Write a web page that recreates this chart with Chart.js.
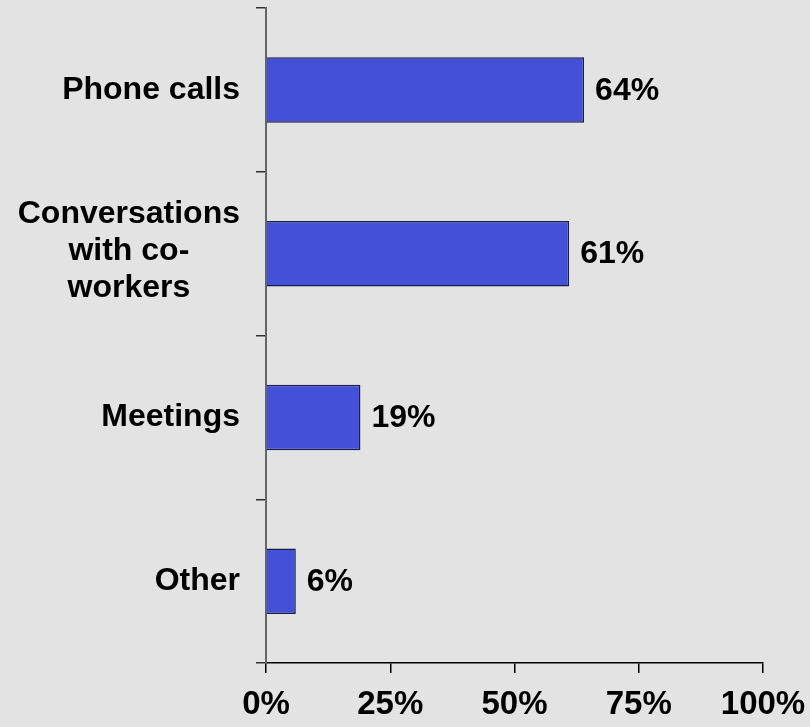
<!DOCTYPE html>
<html>
<head>
<meta charset="utf-8">
<script src="https://cdn.jsdelivr.net/npm/chart.js@4/dist/chart.umd.min.js"></script>
<style>
  html, body { margin: 0; padding: 0; background: #e3e3e3; }
  canvas { display: block; }
</style>
</head>
<body>
<canvas id="c" width="810" height="727"></canvas>
<script>
const categories = [['Phone calls'], ['Conversations', 'with co-', 'workers'], ['Meetings'], ['Other']];
const values = [64, 61, 19, 6];
const valueLabels = ['64%', '61%', '19%', '6%'];
const xTickValues = [0, 25, 50, 75, 100];
const xTickLabels = ['0%', '25%', '50%', '75%', '100%'];

const FONT = '"Liberation Sans", Arial, sans-serif';

const labelPlugin = {
  id: 'labelPlugin',
  beforeDraw(chart) {
    const ctx = chart.ctx;
    ctx.save();
    ctx.fillStyle = '#e3e3e3';
    ctx.fillRect(0, 0, chart.width, chart.height);
    ctx.restore();
  },
  afterDraw(chart) {
    const ctx = chart.ctx;
    const yScale = chart.scales.y;
    const meta = chart.getDatasetMeta(0);
    ctx.save();
    ctx.fillStyle = '#000';
    ctx.font = 'bold 32px ' + FONT;
    ctx.textBaseline = 'middle';
    const lineH = 37;
    const rightEdge = yScale.right - 26;
    categories.forEach((lines, i) => {
      const cy = yScale.getPixelForValue(i) - (lines.length > 1 ? 2 : 0);
      let maxW = 0;
      lines.forEach(l => { maxW = Math.max(maxW, ctx.measureText(l).width); });
      const cx = rightEdge - maxW / 2;
      ctx.textAlign = 'center';
      lines.forEach((l, j) => {
        const y = cy + (j - (lines.length - 1) / 2) * lineH;
        ctx.fillText(l, cx, y);
      });
    });
    ctx.textAlign = 'left';
    meta.data.forEach((bar, i) => {
      ctx.fillText(valueLabels[i], bar.x + 11, bar.y + 1);
    });
    ctx.restore();
  }
};

new Chart(document.getElementById('c'), {
  type: 'bar',
  data: {
    labels: categories,
    datasets: [{
      data: values,
      backgroundColor: '#4350d8',
      borderColor: '#1c1c4a',
      borderWidth: 1.5,
      categoryPercentage: 1,
      barPercentage: 0.4
    }]
  },
  options: {
    indexAxis: 'y',
    responsive: false,
    animation: false,
    layout: { padding: { top: 8, right: 47, left: 0, bottom: 0 } },
    plugins: { legend: { display: false }, tooltip: { enabled: false } },
    scales: {
      x: {
        min: 0, max: 100,
        afterBuildTicks(scale) { scale.ticks = xTickValues.map(v => ({ value: v })); },
        afterFit(scale) { scale.height = 64; scale.paddingLeft = 0; scale.paddingRight = 0; },
        ticks: {
          callback(v) { return xTickLabels[xTickValues.indexOf(v)]; },
          font: { family: FONT, size: 33, weight: 'bold' },
          color: '#000',
          padding: 12,
          maxRotation: 0
        },
        grid: { drawOnChartArea: false, tickLength: 10, color: '#000', lineWidth: 1.5 },
        border: { color: '#000', width: 1.5 }
      },
      y: {
        afterFit(scale) { scale.width = 266; },
        ticks: { display: false },
        grid: { drawOnChartArea: false, tickLength: 10, color: '#333', lineWidth: 1.5, offset: true },
        border: { color: '#666', width: 2 }
      }
    }
  },
  plugins: [labelPlugin]
});
</script>
</body>
</html>
